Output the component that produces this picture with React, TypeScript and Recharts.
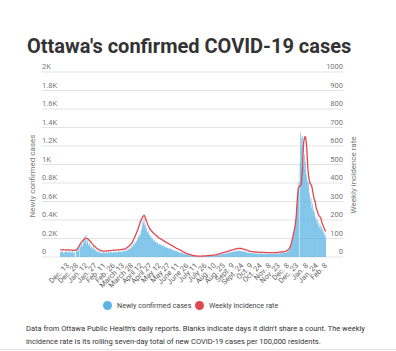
import React from 'react';
import { ComposedChart, Bar, Line, XAxis, YAxis, CartesianGrid } from 'recharts';

// daily values, Dec. 1 2020 → Feb. 8 2022 (one row = 15 days)
const CASES: (number | null)[] = [
  52, 61, 48, 57, 66, 45, 38, 49, 58, 62, 55, 71, 47, 40, 53,
  63, 58, 44, 52, 49, 61, 37, 46, 55, null, null, 68, 72, 59, 81,
  95, null, 118, 104, 126, 149, 112, 135, 187, 152, 223, 176, 238, 141, 162,
  184, 131, 117, 153, 98, 126, 109, 84, 92, 118, 73, 88, 64, 79, 57,
  71, 49, 62, 53, 41, 58, 46, 39, 52, 44, 37, 55, 48, 41, 46,
  39, 52, 47, 43, 56, 40, 49, 58, 45, 51, 38, 54, 49, 60, 47,
  53, 61, 44, 57, 49, 66, 51, 58, 48, 63, 55, 70, 52, 64, 59,
  68, 57, 74, 63, 79, 71, 86, 77, 93, 84, 104, 96, 118, 109, 131,
  142, 128, 157, 149, 176, 165, 198, 184, 226, 211, 248, 236, 279, 301, 347,
  392, 364, 418, 337, 352, 298, 316, 271, 259, 282, 246, 231, 219, 237, 205,
  188, 203, 179, 171, 186, 162, 168, 154, 147, 159, 141, 133, 146, 128, 137,
  124, 131, 118, 112, 126, 107, 115, 103, 98, 109, 94, 101, 89, 96, 84,
  91, 79, 86, 73, 80, 69, 75, 64, 70, 58, 66, 53, 61, 49, 55,
  46, 52, 41, 47, 36, 42, 33, 38, 29, 34, 26, 31, 23, 27, 21,
  19, 24, 16, 20, 14, 17, 12, 15, 10, 13, 9, 11, 8, 10, 7,
  9, 6, 8, 5, 7, null, 6, 8, 9, 7, 10, 8, 9, 11, 7,
  10, 12, 9, 11, 13, 10, 14, 12, 15, 13, 17, 14, 16, 18, 15,
  17, 20, 18, 22, 24, 21, 26, 28, 25, 31, 29, 34, 32, 36, 38,
  35, 41, 39, 44, 46, 42, 49, 51, 47, 54, 52, 57, 55, 60, 58,
  62, 59, 64, 61, 67, 63, 69, 66, 70, 64, 68, 62, 65, 59, 63,
  57, 60, 54, 56, 50, 53, 47, 49, 45, 47, 42, 44, 40, 42, 38,
  41, 37, 40, 36, 39, 35, 38, 34, 37, 33, 36, 35, 38, 34, 37,
  33, 36, 32, 38, 35, 34, 37, 31, 36, 33, 35, 32, 34, 37, 33,
  36, 32, 35, 38, 31, 34, 37, 33, 35, 39, 34, 36, 40, 35, 38,
  41, 37, 39, 43, 40, 44, 42, 46, 48, 45, 52, 58, 55, 63, 71,
  84, 97, 112, 136, 158, 187, 214, 246, 283, 327, 398, 486, 572, 641, 728,
  812, null, 1024, 1347, 1286, 1195, 1312, 1063, 987, 1108, 946, 1032, 894, 871, 823,
  763, 812, 694, 658, 597, 641, 532, 578, 496, 521, 447, 483, 412, 438, 391,
  356, 402, 338, 371, 314, 349, 296, 327, 281, 304, 258, 276, 231, 249, 214,
];

// weekly incidence rate per 100,000
const RATE: number[] = [
  38, 38, 39, 39, 40, 40, 39, 38, 38, 39, 39, 38, 38, 37, 38,
  38, 38, 37, 37, 37, 36, 36, 36, 36, 37, 37, 38, 40, 44, 50,
  55, 61, 67, 72, 77, 82, 86, 90, 93, 96, 98, 100, 101, 101, 100,
  98, 95, 92, 88, 84, 80, 76, 72, 68, 64, 61, 58, 55, 52, 49,
  46, 44, 42, 40, 38, 36, 35, 34, 33, 33, 32, 32, 32, 32, 32,
  32, 33, 33, 33, 34, 34, 35, 35, 35, 36, 36, 36, 37, 37, 37,
  37, 37, 38, 38, 38, 39, 39, 39, 40, 40, 40, 41, 41, 42, 42,
  43, 44, 46, 48, 50, 52, 55, 58, 61, 64, 67, 71, 76, 82, 89,
  96, 103, 110, 118, 126, 134, 142, 150, 160, 170, 180, 190, 198, 206, 212,
  218, 222, 225, 222, 214, 204, 194, 184, 175, 167, 160, 154, 150, 146, 142,
  138, 134, 131, 128, 125, 122, 119, 116, 113, 110, 107, 104, 102, 100, 98,
  96, 94, 92, 90, 88, 86, 84, 82, 80, 78, 76, 74, 72, 70, 69,
  67, 65, 63, 61, 59, 57, 55, 53, 51, 49, 47, 46, 44, 43, 42,
  40, 38, 36, 34, 32, 30, 28, 26, 25, 23, 21, 20, 18, 17, 16,
  15, 14, 13, 12, 11, 10, 9, 8, 8, 7, 7, 6, 6, 6, 5,
  5, 5, 5, 5, 5, 5, 5, 5, 6, 6, 6, 6, 6, 6, 6,
  7, 7, 7, 8, 8, 8, 9, 9, 9, 10, 10, 10, 11, 11, 12,
  12, 13, 14, 15, 16, 17, 18, 19, 20, 21, 22, 23, 24, 25, 26,
  27, 28, 29, 30, 31, 32, 33, 34, 35, 36, 37, 38, 39, 40, 41,
  42, 43, 44, 44, 45, 46, 46, 47, 47, 47, 46, 46, 45, 44, 43,
  42, 41, 40, 39, 38, 37, 35, 34, 33, 32, 31, 30, 30, 29, 29,
  28, 28, 28, 27, 27, 27, 26, 26, 26, 25, 25, 25, 25, 25, 25,
  25, 25, 25, 25, 25, 25, 25, 24, 24, 24, 24, 24, 24, 24, 24,
  24, 24, 24, 24, 24, 24, 24, 24, 24, 25, 25, 25, 25, 26, 26,
  26, 27, 27, 27, 28, 28, 29, 29, 30, 31, 33, 35, 37, 40, 44,
  49, 56, 65, 76, 90, 105, 120, 135, 150, 170, 195, 230, 280, 330, 370,
  378, 382, 385, 388, 392, 440, 470, 560, 620, 640, 650, 648, 625, 590, 530,
  470, 440, 420, 405, 395, 390, 385, 370, 350, 330, 315, 305, 295, 275, 258,
  250, 240, 230, 224, 220, 216, 210, 198, 184, 176, 168, 160, 152, 145, 138,
];

const TICK_DAYS = [12, 27, 42, 57, 72, 87, 102, 117, 132, 147, 162, 177, 192, 207, 222, 237, 252, 267, 282, 297, 312, 327, 342, 357, 372, 387, 403, 419, 434];
const TICK_LABELS = [
  'Dec. 13', 'Dec. 28', 'Jan. 12', 'Jan. 27', 'Feb. 11', 'Feb. 26', 'March 13', 'March 28', 'April 12', 'April 27',
  'May 12', 'May 27', 'June 11', 'June 26', 'July 11', 'July 26', 'Aug. 10', 'Aug. 25', 'Sept. 9', 'Sept. 24',
  'Oct. 9', 'Oct. 24', 'Nov. 8', 'Nov. 23', 'Dec. 8', 'Dec. 23', 'Jan. 8', 'Jan. 24', 'Feb. 8',
];
const LEFT_TICKS = [0, 200, 400, 600, 800, 1000, 1200, 1400, 1600, 1800, 2000];
const RIGHT_TICKS = [0, 100, 200, 300, 400, 500, 600, 700, 800, 900, 1000];

const BLUE = '#5db4e4';
const RED = '#e0474e';
const FONT = 'Roboto, sans-serif';

const PLOT_LEFT = 42;
const PLOT_RIGHT = 343;
const PLOT_BOTTOM = 197;

function fmtK(v: number): string {
  if (v === 0) return '0';
  return `${v / 1000}K`;
}

const LeftTick = (props: any) => (
  <text x={PLOT_LEFT} y={props.y - 3} fontSize={7.5} fill="#777" fontFamily={FONT} textAnchor="start">
    {fmtK(props.payload.value)}
  </text>
);

const RightTick = (props: any) => (
  <text x={PLOT_RIGHT} y={props.y - 3} fontSize={7.5} fill="#777" fontFamily={FONT} textAnchor="end">
    {props.payload.value}
  </text>
);

const DateTick = (props: any) => {
  const i = TICK_DAYS.indexOf(props.payload.value);
  const x = props.x + 2;
  const y = PLOT_BOTTOM + 9;
  return (
    <text x={x} y={y} fontSize={7.5} fill="#666" fontFamily={FONT} textAnchor="end" transform={`rotate(-45 ${x} ${y})`}>
      {TICK_LABELS[i]}
    </text>
  );
};

export default function App() {
  const data = CASES.map((c, i) => ({ day: i, cases: c, rate: RATE[i] }));

  return (
    <div style={{ position: 'absolute', left: 0, top: 0, width: 396, height: 351, background: '#fff', fontFamily: FONT, overflow: 'hidden' }}>
      <div style={{ position: 'absolute', left: 27, top: 36, fontSize: 20, lineHeight: '21px', fontWeight: 700, color: '#333', whiteSpace: 'nowrap' }}>
        Ottawa's confirmed COVID-19 cases
      </div>

      <div style={{ position: 'absolute', left: 0, top: 60 }}>
        <ComposedChart
          width={396}
          height={245}
          data={data}
          margin={{ top: 12, right: 52, bottom: 0, left: 41 }}
          barCategoryGap={0}
          barGap={0}
        >
          <CartesianGrid yAxisId="left" vertical={false} stroke="#e3e3e3" />
          <XAxis
            dataKey="day"
            type="category"
            ticks={TICK_DAYS}
            interval={0}
            tick={<DateTick />}
            tickLine={false}
            axisLine={false}
            height={48}
            padding={{ left: 18, right: 17 }}
          />
          <YAxis yAxisId="left" orientation="left" width={1} domain={[0, 2000]} ticks={LEFT_TICKS} interval={0} tick={<LeftTick />} tickLine={false} axisLine={false} />
          <YAxis yAxisId="right" orientation="right" width={1} domain={[0, 1000]} ticks={RIGHT_TICKS} interval={0} tick={<RightTick />} tickLine={false} axisLine={false} />
          <Bar yAxisId="left" dataKey="cases" fill={BLUE} isAnimationActive={false} />
          <Line yAxisId="right" dataKey="rate" type="linear" stroke={RED} strokeWidth={1.3} dot={false} isAnimationActive={false} />
        </ComposedChart>
      </div>

      <div style={{ position: 'absolute', left: 32, top: 176, transform: 'translate(-50%, -50%) rotate(-90deg)', fontSize: 8, color: '#777', whiteSpace: 'nowrap' }}>
        Newly confirmed cases
      </div>
      <div style={{ position: 'absolute', left: 353, top: 175, transform: 'translate(-50%, -50%) rotate(-90deg)', fontSize: 8, color: '#777', whiteSpace: 'nowrap' }}>
        Weekly incidence rate
      </div>

      <div style={{ position: 'absolute', left: 103, top: 301, width: 9, height: 9, borderRadius: '50%', background: BLUE }} />
      <div style={{ position: 'absolute', left: 117, top: 301, fontSize: 7.2, lineHeight: '9px', color: '#444', whiteSpace: 'nowrap' }}>
        Newly confirmed cases
      </div>
      <div style={{ position: 'absolute', left: 194.5, top: 301, width: 9, height: 9, borderRadius: '50%', background: RED }} />
      <div style={{ position: 'absolute', left: 209, top: 301, fontSize: 7.2, lineHeight: '9px', color: '#444', whiteSpace: 'nowrap' }}>
        Weekly incidence rate
      </div>

      <div style={{ position: 'absolute', left: 26, top: 323, fontSize: 7.5, lineHeight: '12.5px', color: '#333', whiteSpace: 'nowrap' }}>
        Data from Ottawa Public Health's daily reports. Blanks indicate days it didn't share a count. The weekly
        <br />
        incidence rate is its rolling seven-day total of new COVID-19 cases per 100,000 residents.
      </div>

      <div style={{ position: 'absolute', left: 0, top: 349, width: 396, height: 1, background: '#e2e2e2' }} />
    </div>
  );
}
